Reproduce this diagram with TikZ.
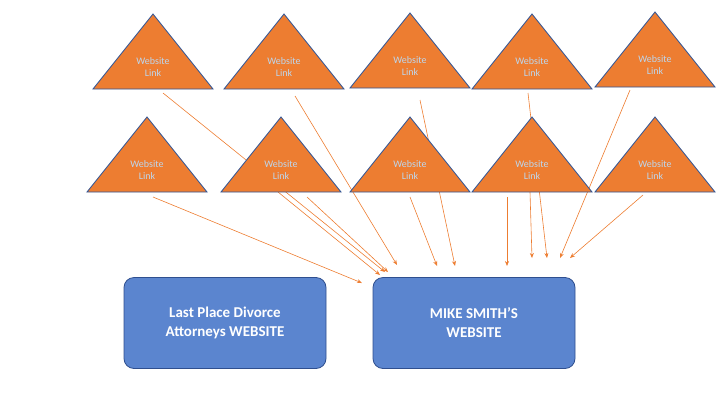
\documentclass[tikz,border=0pt]{standalone}
\usepackage{fontspec}
\setmainfont{Carlito}
\usetikzlibrary{arrows.meta,positioning}
\definecolor{tri}{HTML}{ED7D31}
\definecolor{triline}{HTML}{2F5597}
\definecolor{linktext}{HTML}{BDD7EE}
\definecolor{boxfill}{HTML}{5B85CF}
\definecolor{boxline}{HTML}{2F4F8F}
\begin{document}
\begin{tikzpicture}[x=1pt,y=-1pt]
	\tikzset{link/.style={draw=orange!90!black,line width=0.6pt,-{Stealth[length=5pt,width=4pt]},color=tri},
		site/.style={draw=boxline,fill=boxfill,rounded corners=10pt,minimum width=202pt,minimum height=91pt,
			text=white,font=\bfseries\fontsize{15}{19}\selectfont,align=center,line width=0.8pt},
		word/.style={text=linktext,font=\fontsize{10}{12}\selectfont,align=center}}
	\useasboundingbox (0,0) rectangle (720,405);
	% arrows behind the triangles
	\coordinate (t1) at (163,93);  \coordinate (t2) at (295,96);
	\coordinate (t3) at (420,100); \coordinate (t4) at (528,93);
	\coordinate (t5) at (630,90);
	\coordinate (b1) at (153,197); \coordinate (b2) at (278,192);
	\coordinate (b3) at (307,197); \coordinate (b4) at (410,197);
	\coordinate (b5) at (507,197); \coordinate (b6) at (530,192);
	\coordinate (b7) at (643,195);
	\node [site] (last) at (225,323) {Last Place Divorce\\Attorneys WEBSITE};
	\node [site] (mike) at (474,323) {MIKE SMITH'S\\WEBSITE};
	\draw [link] (t1) -- (385,272);
	\draw [link] (t2) -- (397,265);
	\draw [link] (t3) -- (455,266);
	\draw [link] (t4) -- (547,258);
	\draw [link] (t5) -- (560,258);
	\draw [link] (b1) -- (362,283);
	\draw [link] (b2) -- (380,275);
	\draw [link] (b3) -- (388,272);
	\draw [link] (b4) -- (437,266);
	\draw [link] (b5) -- (507,266);
	\draw [link] (b6) -- (532,258);
	\draw [link] (b7) -- (570,258);
	% triangles
	\foreach \x/\y [count=\i] in {153/14,284/14,410/13,532/14,655/12,147/117,281/117,410/117,532/117,655/117} {
		\draw [fill=tri,draw=triline,line width=0.8pt] (\x,\y) -- (\x+60,\y+75) -- (\x-60,\y+75) -- cycle;
		\node [word] (w\i) at (\x,\y+53) {Website\\Link};
	}
\end{tikzpicture}
\end{document}
